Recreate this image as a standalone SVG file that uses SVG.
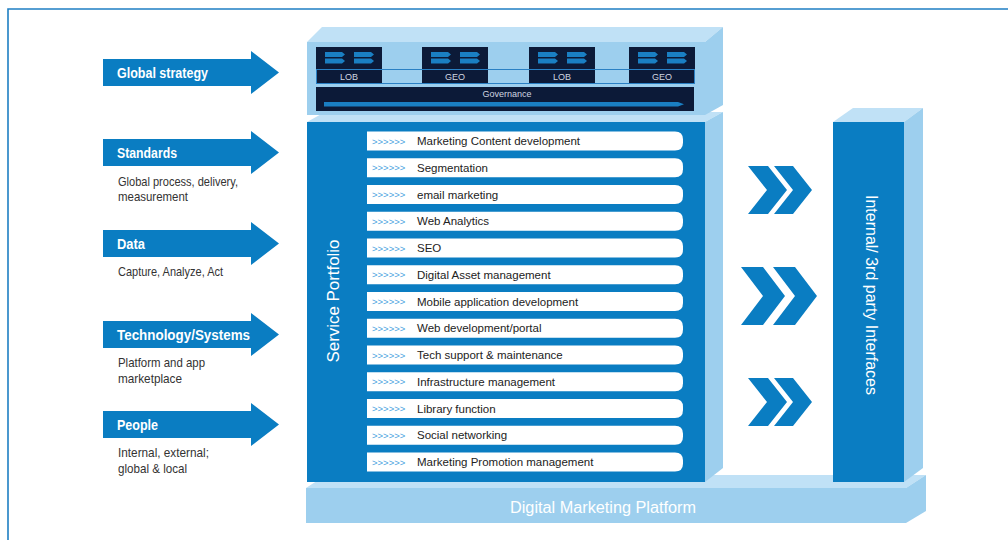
<svg xmlns="http://www.w3.org/2000/svg" width="1008" height="540" viewBox="0 0 1008 540">
<defs>
<style>
.blue{fill:#0a7dc2}
.lt{fill:#9dcfee}
.top{fill:#c0e1f6}
.navy{fill:#0c1a38}
.ic{fill:#1a7fc3}
.lbl{font-family:"Liberation Sans",Arial,sans-serif;font-weight:bold;font-size:14px;fill:#ffffff}
.sub{font-family:"Liberation Sans",Arial,sans-serif;font-size:13px;fill:#333333}
.row{fill:#ffffff}
.chev{font-family:"Liberation Sans",Arial,sans-serif;font-size:9.5px;fill:#4aa3e0}
.svc{font-family:"Liberation Sans",Arial,sans-serif;font-size:11.5px;fill:#222222}
.wt{font-family:"Liberation Sans",Arial,sans-serif;font-size:16px;fill:#ffffff}
.small{font-family:"Liberation Sans",Arial,sans-serif;font-size:9px;fill:#d0d6e0;text-anchor:middle}
</style>
<g id="icon">
<polygon class="ic" points="0,0 17,0 20,2.5 17,5 0,5"/>
<polygon class="ic" points="0,6.5 17,6.5 20,9 17,11.5 0,11.5"/>
</g>
<path id="rowshape" d="M0,0 H308 Q316,0 316,8 V11 Q316,19 308,19 H0 Z"/>
</defs>

<!-- frame -->
<path d="M8,540 V9 H1008" fill="none" stroke="#1f7fc3" stroke-width="1.6"/>

<!-- left arrows -->
<g id="global-strategy">
<polygon class="blue" points="103,59 251,59 251,51 279,72.5 251,94 251,86 103,86"/>
<text class="lbl" x="117" y="78" textLength="91" lengthAdjust="spacingAndGlyphs">Global strategy</text>
</g>
<g id="standards">
<polygon class="blue" points="103,139 251,139 251,131 279,152.5 251,174 251,166 103,166"/>
<text class="lbl" x="117" y="158" textLength="60" lengthAdjust="spacingAndGlyphs">Standards</text>
<text class="sub" x="118" y="186" textLength="120" lengthAdjust="spacingAndGlyphs">Global process, delivery,</text>
<text class="sub" x="118" y="201" textLength="70" lengthAdjust="spacingAndGlyphs">measurement</text>
</g>
<g id="data">
<polygon class="blue" points="103,230 251,230 251,222 279,243.5 251,265 251,257 103,257"/>
<text class="lbl" x="117" y="249" textLength="28" lengthAdjust="spacingAndGlyphs">Data</text>
<text class="sub" x="118" y="276" textLength="105" lengthAdjust="spacingAndGlyphs">Capture, Analyze, Act</text>
</g>
<g id="technology">
<polygon class="blue" points="103,321 251,321 251,313 279,334.5 251,356 251,348 103,348"/>
<text class="lbl" x="117" y="340" textLength="133" lengthAdjust="spacingAndGlyphs">Technology/Systems</text>
<text class="sub" x="118" y="367" textLength="87" lengthAdjust="spacingAndGlyphs">Platform and app</text>
<text class="sub" x="118" y="383" textLength="64" lengthAdjust="spacingAndGlyphs">marketplace</text>
</g>
<g id="people">
<polygon class="blue" points="103,411 251,411 251,403 279,424.5 251,446 251,438 103,438"/>
<text class="lbl" x="117" y="430" textLength="41" lengthAdjust="spacingAndGlyphs">People</text>
<text class="sub" x="118" y="457" textLength="91" lengthAdjust="spacingAndGlyphs">Internal, external;</text>
<text class="sub" x="118" y="473" textLength="69" lengthAdjust="spacingAndGlyphs">global &amp; local</text>
</g>

<!-- platform -->
<g id="platform">
<polygon class="top" points="306,488 326,475 926,475 906,488"/>
<polygon class="lt" points="906,488 926,475 926,511 906,523"/>
<rect class="lt" x="306" y="488" width="600" height="35"/>
<text class="wt" x="603" y="513" text-anchor="middle" textLength="186" lengthAdjust="spacingAndGlyphs">Digital Marketing Platform</text>
</g>

<!-- service portfolio -->
<g id="service-portfolio">
<polygon class="top" points="307,122 325,112 723,112 705,122"/>
<polygon class="lt" points="705,122 723,112 723,468 705,482"/>
<rect class="blue" x="307" y="122" width="398" height="360"/>
<text class="wt" transform="translate(339,301) rotate(-90)" text-anchor="middle" textLength="123" lengthAdjust="spacingAndGlyphs">Service Portfolio</text>
<g transform="translate(367,131.5)"><use href="#rowshape" class="row"/><text class="chev" x="5" y="13">&gt;&gt;&gt;&gt;&gt;&gt;</text><text class="svc" x="50" y="13.5">Marketing Content development</text></g>
<g transform="translate(367,158.25)"><use href="#rowshape" class="row"/><text class="chev" x="5" y="13">&gt;&gt;&gt;&gt;&gt;&gt;</text><text class="svc" x="50" y="13.5">Segmentation</text></g>
<g transform="translate(367,185)"><use href="#rowshape" class="row"/><text class="chev" x="5" y="13">&gt;&gt;&gt;&gt;&gt;&gt;</text><text class="svc" x="50" y="13.5">email marketing</text></g>
<g transform="translate(367,211.75)"><use href="#rowshape" class="row"/><text class="chev" x="5" y="13">&gt;&gt;&gt;&gt;&gt;&gt;</text><text class="svc" x="50" y="13.5">Web Analytics</text></g>
<g transform="translate(367,238.5)"><use href="#rowshape" class="row"/><text class="chev" x="5" y="13">&gt;&gt;&gt;&gt;&gt;&gt;</text><text class="svc" x="50" y="13.5">SEO</text></g>
<g transform="translate(367,265.25)"><use href="#rowshape" class="row"/><text class="chev" x="5" y="13">&gt;&gt;&gt;&gt;&gt;&gt;</text><text class="svc" x="50" y="13.5">Digital Asset management</text></g>
<g transform="translate(367,292)"><use href="#rowshape" class="row"/><text class="chev" x="5" y="13">&gt;&gt;&gt;&gt;&gt;&gt;</text><text class="svc" x="50" y="13.5">Mobile application development</text></g>
<g transform="translate(367,318.75)"><use href="#rowshape" class="row"/><text class="chev" x="5" y="13">&gt;&gt;&gt;&gt;&gt;&gt;</text><text class="svc" x="50" y="13.5">Web development/portal</text></g>
<g transform="translate(367,345.5)"><use href="#rowshape" class="row"/><text class="chev" x="5" y="13">&gt;&gt;&gt;&gt;&gt;&gt;</text><text class="svc" x="50" y="13.5">Tech support &amp; maintenance</text></g>
<g transform="translate(367,372.25)"><use href="#rowshape" class="row"/><text class="chev" x="5" y="13">&gt;&gt;&gt;&gt;&gt;&gt;</text><text class="svc" x="50" y="13.5">Infrastructure management</text></g>
<g transform="translate(367,399)"><use href="#rowshape" class="row"/><text class="chev" x="5" y="13">&gt;&gt;&gt;&gt;&gt;&gt;</text><text class="svc" x="50" y="13.5">Library function</text></g>
<g transform="translate(367,425.75)"><use href="#rowshape" class="row"/><text class="chev" x="5" y="13">&gt;&gt;&gt;&gt;&gt;&gt;</text><text class="svc" x="50" y="13.5">Social networking</text></g>
<g transform="translate(367,452.5)"><use href="#rowshape" class="row"/><text class="chev" x="5" y="13">&gt;&gt;&gt;&gt;&gt;&gt;</text><text class="svc" x="50" y="13.5">Marketing Promotion management</text></g>
</g>

<!-- governance block -->
<g id="governance">
<polygon class="top" points="307,42 322,27 723,27 705,42"/>
<polygon class="lt" points="705,42 723,27 723,105 705,115"/>
<rect class="lt" x="307" y="42" width="398" height="73"/>
<rect class="navy" x="316" y="47" width="66" height="37"/>
<rect class="navy" x="422" y="47" width="66" height="37"/>
<rect class="navy" x="529" y="47" width="66" height="37"/>
<rect class="navy" x="629" y="47" width="66" height="37"/>
<use href="#icon" x="325" y="52"/><use href="#icon" x="354" y="52"/>
<use href="#icon" x="431" y="52"/><use href="#icon" x="460" y="52"/>
<use href="#icon" x="538" y="52"/><use href="#icon" x="567" y="52"/>
<use href="#icon" x="638" y="52"/><use href="#icon" x="667" y="52"/>
<rect x="316.5" y="69.5" width="378" height="14" fill="none" stroke="#2a80c4" stroke-width="1"/>
<text class="small" x="349" y="79.5">LOB</text>
<text class="small" x="455" y="79.5">GEO</text>
<text class="small" x="562" y="79.5">LOB</text>
<text class="small" x="662" y="79.5">GEO</text>
<rect class="navy" x="316" y="87" width="378" height="24"/>
<text class="small" x="507" y="96.5">Governance</text>
<polygon class="ic" points="324,102 678,102 684,104.3 678,106.5 324,106.5"/>
</g>

<!-- interfaces block -->
<g id="interfaces">
<polygon class="top" points="833,122 853,108 923,108 904,122"/>
<polygon class="lt" points="904,122 923,108 923,468 904,482"/>
<rect class="blue" x="833" y="122" width="71" height="360"/>
<text class="wt" transform="translate(866,295) rotate(90)" text-anchor="middle" textLength="200" lengthAdjust="spacingAndGlyphs">Internal/ 3rd party Interfaces</text>
</g>

<!-- connectors -->
<g id="connectors">
<polygon class="blue" points="748,166 768,166 787,190 768,214 748,214 767,190"/>
<polygon class="blue" points="774,166 793,166 812,190 793,214 774,214 793,190"/>
<polygon class="blue" points="741,267 763,267 785,296 763,325 741,325 763,296"/>
<polygon class="blue" points="773,267 795,267 817,296 795,325 773,325 795,296"/>
<polygon class="blue" points="748,378 768,378 787,402 768,426 748,426 767,402"/>
<polygon class="blue" points="774,378 793,378 812,402 793,426 774,426 793,402"/>
</g>
</svg>
